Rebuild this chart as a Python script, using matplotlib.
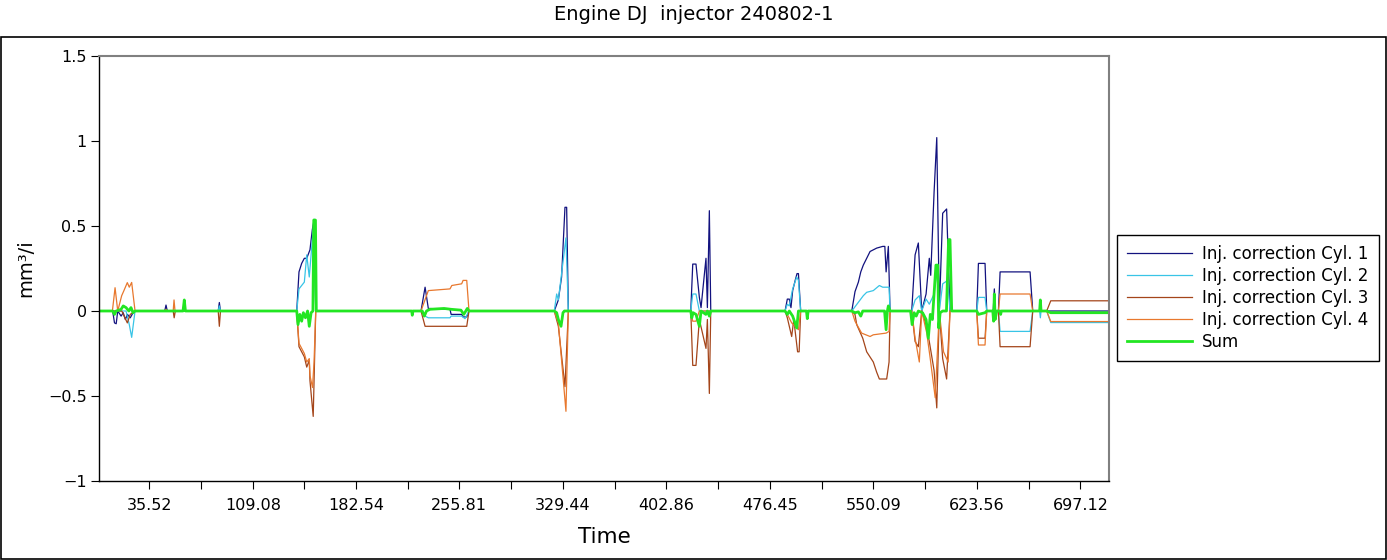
import numpy as np
import matplotlib
matplotlib.use('Agg')
import matplotlib.pyplot as plt
from matplotlib.patches import Rectangle

# tiempo final del registro
t_fin = 717.7

# correcciones por cilindro (tiempo, mm3/i)
cyl1 = [(0, 0), (9.5, 0), (10.8, -0.07), (12.0, -0.075), (13.1, 0), (15.5, -0.03), (17, -0.01), (18.5, -0.05),
        (20, -0.02), (22, -0.04), (24, -0.01), (25.4, 0),
        (46.5, 0), (47.4, 0.035), (48.3, 0), (59.5, 0), (60.4, 0.06), (61.2, 0),
        (84.5, 0), (85.3, 0.05), (86.1, 0),
        (140.3, 0), (141.9, 0.23), (143.8, 0.28), (145.7, 0.31), (147.4, 0.31), (149.7, 0.36), (151.4, 0.48),
        (152.6, 0.535), (153.8, 0),
        (228.6, 0), (231.5, 0.14), (233.8, 0.015), (249.2, 0.01), (250, -0.02), (257.5, -0.02), (258.5, -0.035),
        (261.1, -0.035), (262.7, 0),
        (323.3, 0), (326.2, 0.065), (328.5, 0.2), (330.9, 0.61), (332.1, 0.61), (333.3, 0),
        (420.3, 0), (421.7, 0.276), (424.0, 0.276), (426.4, 0.08), (427.6, 0.02), (431.1, 0.31), (432.1, 0.02),
        (433.5, 0.59), (434.5, 0),
        (487.3, 0), (488.9, 0.07), (490.3, 0.07), (491.5, 0.02), (492.7, 0.12), (494.5, 0.18), (495.8, 0.22),
        (496.8, 0.22), (498.4, 0),
        (534.7, 0), (537.0, 0.114), (539.4, 0.17), (541.1, 0.23), (542.9, 0.27), (545.3, 0.31), (547.7, 0.35),
        (552.4, 0.37), (556.7, 0.38), (558.2, 0.38), (559.1, 0.23), (560.7, 0.38), (561.9, 0),
        (577.3, 0), (579.7, 0.33), (582.0, 0.40), (584.4, 0), (587.5, 0.1), (589.8, 0.31), (590.8, 0.21),
        (593.2, 0.70), (595.1, 1.02), (596.9, 0), (599.3, 0.575), (602.1, 0.60), (604.5, 0),
        (623.5, 0), (624.7, 0.28), (629.4, 0.28), (630.6, 0),
        (635.2, 0), (636.0, 0.13), (636.8, 0),
        (638.9, 0), (640.1, 0.23), (661.4, 0.23), (663.3, 0), (t_fin, 0)]

cyl2 = [(0, 0), (19, 0), (21.3, -0.08), (23.0, -0.155), (25.4, 0),
        (59.5, 0), (60.4, 0.04), (61.2, 0), (84.5, 0), (85.3, 0.03), (86.1, 0),
        (140.3, 0), (141.9, 0.13), (145.7, 0.17), (147.4, 0.33), (149.2, 0.2), (152.6, 0.54), (153.8, 0),
        (228.6, 0), (231.5, -0.03), (233.8, -0.04), (249.2, -0.04), (250, -0.03), (257.5, -0.03),
        (259.9, -0.045), (262.7, 0),
        (323.3, 0), (325.0, 0.10), (326.2, 0.065), (331.6, 0.43), (333.3, 0),
        (420.3, 0), (421.7, 0.10), (424.0, 0.10), (426.4, 0),
        (487.3, 0), (488.9, 0.04), (490.3, 0.03), (492.7, 0.13), (495.6, 0.20), (496.8, 0.18), (498.4, 0),
        (534.7, 0), (537.0, 0.025), (542.9, 0.09), (545.3, 0.11), (550.0, 0.12), (554.3, 0.15), (556.7, 0.14),
        (561.2, 0.14), (561.9, 0),
        (577.3, 0), (579.7, 0.065), (582.7, 0.09), (584.4, 0), (587.5, 0.07), (589.8, 0.04), (593.2, 0.1),
        (595.1, 0.25), (596.9, 0), (599.3, 0.16), (602.9, 0.18), (604.5, 0),
        (623.5, 0), (624.7, 0.08), (629.4, 0.08), (630.6, 0),
        (638.9, 0), (640.1, -0.12), (661.4, -0.12), (663.3, 0),
        (668.2, 0), (668.7, -0.04), (669.2, 0),
        (673.2, 0), (676.1, -0.068), (t_fin, -0.068)]

cyl3 = [(0, 0), (16, 0), (19.9, -0.07), (22, -0.02), (25.4, 0),
        (52.5, 0), (53.2, -0.04), (54, 0), (84.5, 0), (85.3, -0.09), (86.1, 0),
        (140.3, 0), (141.9, -0.21), (145.7, -0.27), (147.4, -0.33), (149.2, -0.29), (149.7, -0.41),
        (152.0, -0.62), (153.8, 0),
        (228.6, 0), (231.5, -0.09), (261.1, -0.09), (262.7, 0),
        (323.3, 0), (326.2, -0.09), (330.9, -0.445), (333.3, 0),
        (420.3, 0), (421.7, -0.32), (424.0, -0.32), (426.4, -0.05), (431.1, -0.22), (432.1, -0.05),
        (433.5, -0.485), (434.5, 0),
        (487.3, 0), (488.9, -0.04), (492.0, -0.15), (493.5, -0.05), (496.2, -0.24), (497.3, -0.24), (498.4, 0),
        (534.7, 0), (537.0, -0.02), (538.2, -0.08), (542.5, -0.16), (545.3, -0.24), (550.0, -0.30),
        (552.4, -0.36), (554.3, -0.40), (559.5, -0.40), (561.2, -0.3), (561.9, 0),
        (577.3, 0), (579.7, -0.18), (582.0, -0.21), (584.4, 0), (587.5, -0.08), (589.8, -0.18), (593.2, -0.35),
        (595.1, -0.57), (596.9, 0), (599.3, -0.28), (602.1, -0.40), (604.5, 0),
        (623.5, 0), (624.7, -0.16), (629.4, -0.16), (630.6, 0),
        (635.2, 0), (636.0, -0.05), (636.8, 0),
        (638.9, 0), (640.1, -0.21), (661.4, -0.21), (663.3, 0),
        (673.2, 0), (676.1, 0.06), (t_fin, 0.06)]

cyl4 = [(0, 0), (9.3, 0), (11.2, 0.137), (13.1, 0), (15.9, 0.09), (17.5, 0.12), (19.9, 0.167), (21.3, 0.14),
        (23.0, 0.168), (25.4, 0),
        (46.5, 0), (47.4, 0.01), (48.3, 0), (52.5, 0), (53.1, 0.065), (53.8, 0),
        (140.3, 0), (141.9, -0.19), (145.7, -0.25), (147.4, -0.30), (149.2, -0.28), (149.7, -0.38),
        (151.5, -0.45), (152.6, -0.3), (153.8, 0),
        (228.6, 0), (233.8, 0.12), (249.2, 0.13), (250.5, 0.15), (257.5, 0.16), (258.5, 0.18), (261.1, 0.18),
        (262.7, 0),
        (323.3, 0), (326.2, -0.07), (331.6, -0.59), (333.3, 0),
        (420.3, 0), (421.7, -0.06), (424.0, -0.06), (426.4, 0),
        (487.3, 0), (488.9, -0.02), (492.0, -0.07), (496.8, -0.11), (498.4, 0),
        (534.7, 0), (537.0, -0.06), (541.7, -0.13), (547.7, -0.15), (550, -0.14), (559.1, -0.13),
        (561.2, -0.12), (561.9, 0),
        (577.3, 0), (579.7, -0.16), (582.7, -0.30), (584.4, 0), (588.0, -0.13), (590.3, -0.27), (594.0, -0.51),
        (596.9, 0), (599.9, -0.24), (603.2, -0.30), (604.5, 0),
        (623.5, 0), (624.7, -0.20), (629.4, -0.20), (630.6, 0),
        (635.2, 0), (636.0, -0.05), (636.8, 0),
        (638.9, 0), (640.1, 0.10), (661.4, 0.10), (663.3, 0),
        (673.2, 0), (676.1, -0.062), (t_fin, -0.062)]

suma = [(0, 0), (9.5, 0), (10.8, -0.02), (12, 0), (15.5, 0.01), (17, 0.03), (19, 0.02), (21, 0.0),
        (22.5, 0.02), (24, -0.01), (25.4, 0),
        (59.5, 0), (60.4, 0.065), (61.2, 0),
        (140.3, 0), (141.2, -0.08), (142.5, -0.02), (143.8, -0.06), (145, -0.01), (146.5, -0.04), (148, 0),
        (149.2, -0.09), (150.5, -0.01), (151.8, 0), (152.4, 0.535), (153.6, 0.535), (154.2, 0),
        (222.0, 0), (222.4, -0.025), (222.9, 0),
        (229.5, 0), (231.0, -0.03), (232.5, 0), (235, 0.01), (245, 0.015), (250, 0.01), (257, 0.005),
        (259, -0.02), (261.5, 0.015), (262.7, 0),
        (323.3, 0), (325, -0.01), (326.2, -0.05), (328.1, -0.09), (329.5, -0.01), (330.5, 0),
        (420.3, 0), (421.0, -0.04), (422, -0.01), (424, -0.02), (426.4, -0.09), (427.6, 0), (431, -0.02),
        (432.1, 0), (433.5, -0.03), (434.5, 0),
        (487.3, 0), (488.9, -0.02), (490.3, 0), (492.7, -0.03), (495.6, -0.1), (496.8, 0),
        (502.5, 0), (503.1, -0.045), (503.7, 0),
        (534.7, 0), (537.0, -0.01), (539.4, -0.005), (541.1, -0.03), (542.5, 0), (558, 0), (559.1, -0.11),
        (560.0, 0), (560.7, 0.03), (561.9, 0),
        (576.5, 0), (577.6, -0.08), (579, -0.01), (580.5, -0.03), (582, 0), (585, -0.01), (587.5, -0.05),
        (589.1, -0.16), (590.5, -0.02), (592, -0.05), (594.5, 0.27), (595.8, 0.27), (596.5, -0.1),
        (597.5, -0.01), (599.3, 0), (602, 0), (603.5, 0.42), (604.5, 0.42), (605.7, 0),
        (623.5, 0), (624.7, -0.02), (629.4, -0.01), (630.6, 0),
        (634.9, 0), (635.5, -0.06), (636.0, 0.1), (636.6, -0.05), (637.7, 0),
        (640, 0), (640.5, -0.02), (641, 0),
        (668.2, 0), (668.7, 0.065), (669.2, 0),
        (673.2, 0), (676.1, -0.01), (t_fin, -0.01)]

nombres = ['Inj. correction Cyl. 1', 'Inj. correction Cyl. 2', 'Inj. correction Cyl. 3',
           'Inj. correction Cyl. 4', 'Sum']
colores = ['#12127f', '#38c4e6', '#a4451a', '#e8782e', '#22e622']
grosores = [0.9, 0.9, 0.9, 0.9, 2.0]

xticks_val = [35.52, 109.08, 182.54, 255.81, 329.44, 402.86, 476.45, 550.09, 623.56, 697.12]
xticks_txt = ['35.52', '109.08', '182.54', '255.81', '329.44', '402.86', '476.45', '550.09', '623.56', '697.12']
yticks_val = [-1, -0.5, 0, 0.5, 1, 1.5]
yticks_txt = ['\u22121', '\u22120.5', '0', '0.5', '1', '1.5']

W, H = 1387, 560
fig = plt.figure(figsize=(W / 100, H / 100), dpi=100)
ax = fig.add_axes([99.3 / W, 1 - 481 / H, (1109.3 - 99.3) / W, (481 - 56) / H])

for datos, nombre, color, lw in zip([cyl1, cyl2, cyl3, cyl4, suma], nombres, colores, grosores):
    t, v = zip(*datos)
    ax.plot(t, v, color=color, lw=lw, label=nombre)

ax.set_xlim(0, t_fin)
ax.set_ylim(-1, 1.5)
ax.set_xticks(xticks_val)
ax.set_xticklabels(xticks_txt)
ax.set_xticks([(a + b) / 2 for a, b in zip(xticks_val[:-1], xticks_val[1:])], minor=True)
ax.set_yticks(yticks_val)
ax.set_yticklabels(yticks_txt)
ax.tick_params(axis='both', which='both', direction='out', length=6, width=0.8, labelsize=11.5, pad=3)
ax.tick_params(axis='x', pad=6)

for lado in ['top', 'right']:
    ax.spines[lado].set_color('#808080')
    ax.spines[lado].set_linewidth(1.5)
for lado in ['left', 'bottom']:
    ax.spines[lado].set_color('black')
    ax.spines[lado].set_linewidth(1.0)

ax.set_xlabel('Time', fontsize=15.5, labelpad=10)
ax.set_ylabel('mm³/i', fontsize=14, labelpad=9)

fig.text(0.5, 1 - 14 / H, 'Engine DJ  injector 240802-1', ha='center', va='center', fontsize=14)

marco = Rectangle((0.5 / W, 1.5 / H), 1385 / W, (558.5 - 36 - 1) / H, transform=fig.transFigure,
                  fill=False, edgecolor='black', lw=1.2)
fig.patches.append(marco)

leg = ax.legend(loc='upper left', bbox_to_anchor=(1117.3 / W, 1 - 235 / H), bbox_transform=fig.transFigure,
                borderaxespad=0, fancybox=False, edgecolor='black', framealpha=1, fontsize=12,
                handlelength=3.9, handletextpad=0.6, labelspacing=0.24, borderpad=0.6)
leg.get_frame().set_linewidth(1.0)

fig.savefig('out.png', dpi=100)
